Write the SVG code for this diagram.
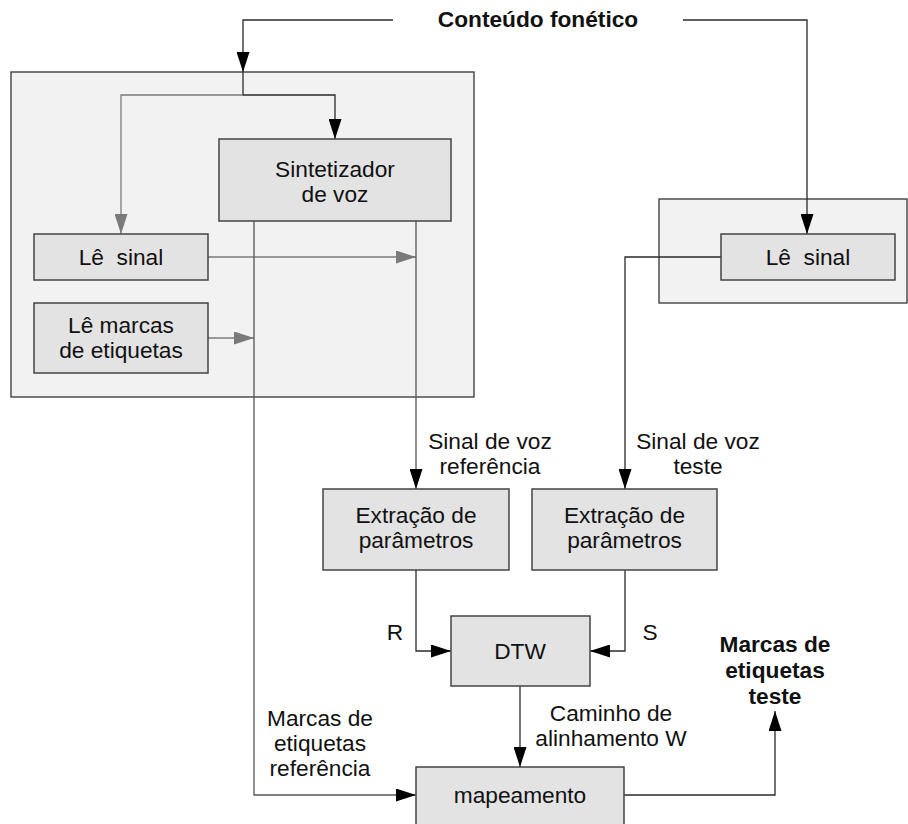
<svg xmlns="http://www.w3.org/2000/svg" width="908" height="824" viewBox="0 0 908 824">
<style>
.cont{fill:#f2f2f2;stroke:#333;stroke-width:1.3}
.box{fill:#e3e3e3;stroke:#444;stroke-width:1.5}
text{font-family:"Liberation Sans",Arial,sans-serif;font-size:22.7px;fill:#111;text-anchor:middle;white-space:pre}
.b{font-weight:bold}
.k{fill:none;stroke:#2a2a2a;stroke-width:1.3}
.g{fill:none;stroke:#7a7a7a;stroke-width:1.3}
.gv{fill:none;stroke:#555;stroke-width:1.3}
</style>
<defs>
<marker id="ak" markerUnits="userSpaceOnUse" markerWidth="20" markerHeight="13" refX="20" refY="6.5" orient="auto"><path d="M0,0 L20,6.5 L0,13 z" fill="#000"/></marker>
<marker id="ag" markerUnits="userSpaceOnUse" markerWidth="20" markerHeight="13" refX="20" refY="6.5" orient="auto"><path d="M0,0 L20,6.5 L0,13 z" fill="#7a7a7a"/></marker>
</defs>
<rect id="container-left" class="cont" x="11" y="72" width="463" height="325"/>
<rect id="container-right" class="cont" x="659" y="199" width="248" height="104"/>
<g id="connectors">
<path class="k" d="M393,20 H243 V72" marker-end="url(#ak)"/>
<path class="k" d="M243,72 V95 H335 V139" marker-end="url(#ak)"/>
<path class="g" d="M243,95 H121 V234" marker-end="url(#ag)"/>
<path class="k" d="M683,20 H807 V234" marker-end="url(#ak)"/>
<path class="g" d="M208,257 H416" marker-end="url(#ag)"/>
<path class="g" d="M208,338 H254" marker-end="url(#ag)"/>
<path class="gv" d="M416,221 V489" marker-end="url(#ak)"/>
<path class="gv" d="M254,221 V795 H416" marker-end="url(#ak)"/>
<path class="k" d="M721,257 H625 V489" marker-end="url(#ak)"/>
<path class="k" d="M416,570 V651 H451" marker-end="url(#ak)"/>
<path class="k" d="M625,570 V651 H590" marker-end="url(#ak)"/>
<path class="k" d="M520,686 V767" marker-end="url(#ak)"/>
<path class="k" d="M624,795 H775 V711" marker-end="url(#ak)"/>
<text x="490" y="449">Sinal de voz</text>
<text x="490" y="474">referência</text>
<text x="698" y="449">Sinal de voz</text>
<text x="698" y="474">teste</text>
<text x="395" y="640">R</text>
<text x="650" y="640">S</text>
<text x="611" y="721">Caminho de</text>
<text x="611" y="746">alinhamento W</text>
<text x="320" y="726">Marcas de</text>
<text x="320" y="751">etiquetas</text>
<text x="320" y="776">referência</text>
</g>
<g id="conteudo-fonetico"><text class="b" x="538" y="27">Conteúdo fonético</text></g>
<g id="sintetizador"><rect class="box" x="219" y="139" width="232" height="82"/><text x="335" y="177">Sintetizador</text><text x="335" y="202">de voz</text></g>
<g id="le-sinal-ref"><rect class="box" x="34" y="234" width="174" height="46"/><text x="121" y="265">Lê  sinal</text></g>
<g id="le-marcas"><rect class="box" x="34" y="303" width="174" height="70"/><text x="121" y="333">Lê marcas</text><text x="121" y="358">de etiquetas</text></g>
<g id="le-sinal-teste"><rect class="box" x="721" y="234" width="174" height="46"/><text x="808" y="265">Lê  sinal</text></g>
<g id="extracao-ref"><rect class="box" x="323" y="489" width="186" height="81"/><text x="416" y="523">Extração de</text><text x="416" y="548">parâmetros</text></g>
<g id="extracao-teste"><rect class="box" x="532" y="489" width="185" height="81"/><text x="624.5" y="523">Extração de</text><text x="624.5" y="548">parâmetros</text></g>
<g id="dtw"><rect class="box" x="451" y="616" width="139" height="70"/><text x="520" y="659">DTW</text></g>
<g id="mapeamento"><rect class="box" x="416" y="767" width="208" height="70"/><text x="520" y="803">mapeamento</text></g>
<g id="marcas-teste"><text class="b" x="775" y="652">Marcas de</text><text class="b" x="775" y="678">etiquetas</text><text class="b" x="775" y="704">teste</text></g>
</svg>
